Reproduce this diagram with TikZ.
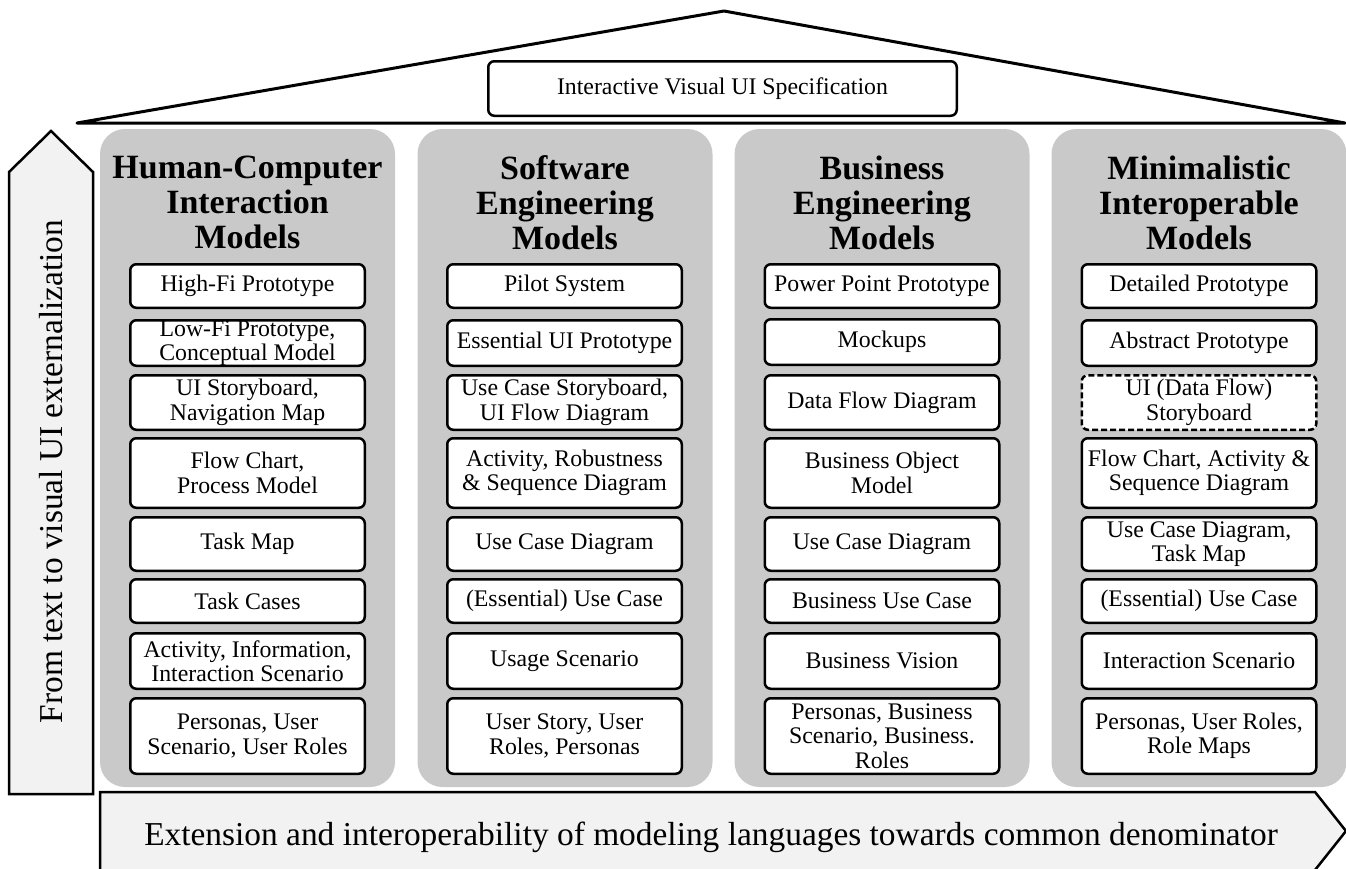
\documentclass[tikz,border=0pt]{standalone}
\usepackage{fontspec}
\setmainfont{Liberation Serif}
\definecolor{colgray}{RGB}{201,201,201}
\definecolor{arrowfill}{RGB}{242,242,242}
\tikzset{
  item/.style={draw, line width=2.5pt, rounded corners=6pt, fill=white,
    minimum width=234.5pt, align=center, inner sep=0pt,
    font=\fontsize{23.8}{24.5}\selectfont},
  dashitem/.style={item, dash pattern=on 6pt off 3pt},
  column/.style={fill=colgray, rounded corners=25pt, minimum width=295pt,
    minimum height=658pt, inner sep=0pt},
  coltitle/.style={font=\bfseries\fontsize{34}{35}\selectfont, align=center,
    anchor=north, inner sep=0pt},
  bigarrow/.style={draw, line width=2.5pt, fill=arrowfill, line join=miter},
  bigtext/.style={font=\fontsize{33.4}{36}\selectfont, inner sep=0pt},
  specbox/.style={draw, line width=2.5pt, rounded corners=6pt, fill=white,
    minimum width=468.5pt, minimum height=54.5pt, inner sep=0pt,
    font=\fontsize{23.8}{24.5}\selectfont},
  h1/.style={minimum height=43.5pt},
  h2/.style={minimum height=45.5pt},
  h3/.style={minimum height=54.5pt},
  h4/.style={minimum height=69.5pt},
  h5/.style={minimum height=53.5pt},
  h6/.style={minimum height=43.5pt},
  h7/.style={minimum height=55.5pt},
  h8/.style={minimum height=75.5pt},
}
\begin{document}
\begin{tikzpicture}[x=1pt,y=-1pt]
\useasboundingbox (0,0) rectangle (1346,868);

% roof
\draw[line width=3pt, line join=round, fill=white] (77,123) -- (724,11) -- (1345,123) -- cycle;
\node[specbox] (spec) at (722.5,88.5) {Interactive Visual UI Specification};

% left arrow
\draw[bigarrow] (9,794) -- (9,172) -- (51,131) -- (93,172) -- (93,794) -- cycle;
\node[bigtext, rotate=90] (vtext) at (51,471.5) {From text to visual UI externalization};

% bottom arrow
\draw[bigarrow] (100,870) -- (100,792) -- (1315,792) -- (1346,831) -- (1315,870);
\node[bigtext, anchor=base] (htext) at (711,845) {Extension and interoperability of modeling languages towards common denominator};

% columns
\node[column] (c1) at (247.5,458) {};
\node[column] (c2) at (565,458) {};
\node[column] (c3) at (882,458) {};
\node[column] (c4) at (1199,458) {};

\node[coltitle] (t1) at (247.5,155.5) {Human-Computer\\Interaction\\Models};
\node[coltitle] (t2) at (565,155.5) {Software\\Engineering\\Models};
\node[coltitle] (t3) at (882,155.5) {Business\\Engineering\\Models};
\node[coltitle] (t4) at (1199,155.5) {Minimalistic\\Interoperable\\Models};

% column 1
\node[item,h1] (a1) at (247.5,286) {High-Fi Prototype};
\node[item,h2] (a2) at (247.5,343) {Low-Fi Prototype,\\Conceptual Model};
\node[item,h3] (a3) at (247.5,402.5) {UI Storyboard,\\Navigation Map};
\node[item,h4] (a4) at (247.5,473) {Flow Chart,\\Process Model};
\node[item,h5] (a5) at (247.5,544) {Task Map};
\node[item,h6] (a6) at (247.5,601) {Task Cases};
\node[item,h7] (a7) at (247.5,661) {Activity, Information,\\Interaction Scenario};
\node[item,h8] (a8) at (247.5,736) {Personas, User\\Scenario, User Roles};

% column 2
\node[item,h1] (b1) at (564.5,286) {Pilot System};
\node[item,h2] (b2) at (564.5,343) {Essential UI Prototype};
\node[item,h3] (b3) at (564.5,402.5) {Use Case Storyboard,\\UI Flow Diagram};
\node[item,h4] (b4) at (564.5,473) {Activity, Robustness\\\& Sequence Diagram};
\node[item,h5] (b5) at (564.5,544) {Use Case Diagram};
\node[item,h6] (b6) at (564.5,601) {(Essential) Use Case};
\node[item,h7] (b7) at (564.5,661) {Usage Scenario};
\node[item,h8] (b8) at (564.5,736) {User Story, User\\Roles, Personas};

% column 3
\node[item,h1] (d1) at (882,286) {Power Point Prototype};
\node[item,h2] (d2) at (882,342) {Mockups};
\node[item,h3] (d3) at (882,402.5) {Data Flow Diagram};
\node[item,h4] (d4) at (882,473) {Business Object\\Model};
\node[item,h5] (d5) at (882,544) {Use Case Diagram};
\node[item,h6] (d6) at (882,601) {Business Use Case};
\node[item,h7] (d7) at (882,661) {Business Vision};
\node[item,h8] (d8) at (882,736) {Personas, Business\\Scenario, Business.\\Roles};

% column 4
\node[item,h1] (e1) at (1199,286) {Detailed Prototype};
\node[item,h2] (e2) at (1199,343) {Abstract Prototype};
\node[dashitem,h3] (e3) at (1199,402.5) {UI (Data Flow)\\Storyboard};
\node[item,h4] (e4) at (1199,473) {Flow Chart, Activity \&\\Sequence Diagram};
\node[item,h5] (e5) at (1199,544) {Use Case Diagram,\\Task Map};
\node[item,h6] (e6) at (1199,601) {(Essential) Use Case};
\node[item,h7] (e7) at (1199,661) {Interaction Scenario};
\node[item,h8] (e8) at (1199,736) {Personas, User Roles,\\Role Maps};
\end{tikzpicture}
\end{document}
